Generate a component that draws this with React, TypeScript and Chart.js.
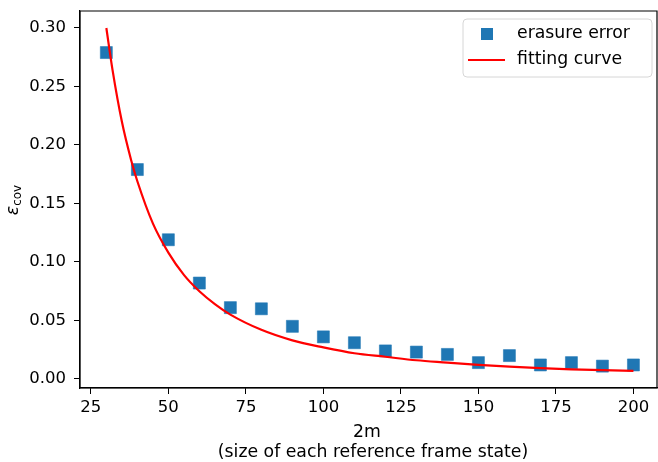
import { useEffect, useRef } from "react";
import { Chart, registerables } from "chart.js";

Chart.register(...registerables);

const FONT = "'DejaVu Sans', sans-serif";

// Measured points (erasure error)
const sizeValues = [30, 40, 50, 60, 70, 80, 90, 100, 110, 120, 130, 140, 150, 160, 170, 180, 190, 200];
const errorValues = [0.279, 0.179, 0.119, 0.082, 0.061, 0.060, 0.045, 0.036, 0.031, 0.024, 0.023, 0.021, 0.014, 0.020, 0.012, 0.014, 0.011, 0.012];

// Fitting curve
const curveX = [30, 32, 35, 38, 40, 45, 50, 55, 60, 65, 70, 80, 90, 100, 110, 120, 130, 140, 150, 160, 170, 180, 190, 200];
const curveY = [0.300, 0.264, 0.220, 0.187, 0.169, 0.133, 0.108, 0.089, 0.075, 0.064, 0.055, 0.042, 0.033, 0.027, 0.022, 0.019, 0.016, 0.014, 0.012, 0.0105, 0.0093, 0.0083, 0.0075, 0.007];

const xTicks = [25, 50, 75, 100, 125, 150, 175, 200];
const yTicks = [0.0, 0.05, 0.1, 0.15, 0.2, 0.25, 0.3];

const legendLabels = ["erasure error", "fitting curve"];
const xTitleLines = ["2m", "(size of each reference frame state)"];

const BLUE = "#1f77b4";
const RED = "#ff0000";
const TEXT_SIZE = 17.3;
const TICK_SIZE = 16.5;

const decorPlugin = {
  id: "decor",
  afterDraw(chart: any) {
    const ctx = chart.ctx as CanvasRenderingContext2D;
    const a = chart.chartArea;
    ctx.save();
    // frame (all spines)
    ctx.strokeStyle = "#000";
    ctx.lineWidth = 1.2;
    ctx.beginPath();
    ctx.moveTo(a.left, a.bottom);
    ctx.lineTo(a.left, a.top);
    ctx.lineTo(a.right, a.top);
    ctx.lineTo(a.right, a.bottom);
    ctx.lineTo(a.left, a.bottom);
    ctx.stroke();

    // legend
    const lx = 463, ly = 19, lw = 189, lh = 58, r = 4;
    ctx.beginPath();
    ctx.moveTo(lx + r, ly);
    ctx.lineTo(lx + lw - r, ly);
    ctx.quadraticCurveTo(lx + lw, ly, lx + lw, ly + r);
    ctx.lineTo(lx + lw, ly + lh - r);
    ctx.quadraticCurveTo(lx + lw, ly + lh, lx + lw - r, ly + lh);
    ctx.lineTo(lx + r, ly + lh);
    ctx.quadraticCurveTo(lx, ly + lh, lx, ly + lh - r);
    ctx.lineTo(lx, ly + r);
    ctx.quadraticCurveTo(lx, ly, lx + r, ly);
    ctx.closePath();
    ctx.fillStyle = "rgba(255,255,255,0.8)";
    ctx.fill();
    ctx.strokeStyle = "#d6d6d6";
    ctx.lineWidth = 1;
    ctx.stroke();

    ctx.fillStyle = BLUE;
    ctx.fillRect(481, 28, 12, 12);
    ctx.strokeStyle = RED;
    ctx.lineWidth = 2.2;
    ctx.beginPath();
    ctx.moveTo(468, 60);
    ctx.lineTo(505, 60);
    ctx.stroke();

    ctx.fillStyle = "#000";
    ctx.font = `${TEXT_SIZE}px ${FONT}`;
    ctx.textAlign = "left";
    ctx.textBaseline = "middle";
    ctx.fillText(legendLabels[0], 517, 34);
    ctx.fillText(legendLabels[1], 517, 60);

    // x title
    ctx.textAlign = "center";
    ctx.fillText(xTitleLines[0], 367, 433);
    ctx.fillText(xTitleLines[1], 373, 453);

    // y title (epsilon with subscript)
    ctx.translate(15, 200);
    ctx.rotate(-Math.PI / 2);
    ctx.textAlign = "left";
    ctx.textBaseline = "alphabetic";
    ctx.font = `italic ${TEXT_SIZE}px ${FONT}`;
    const epsW = ctx.measureText("ε").width;
    ctx.font = `12px ${FONT}`;
    const subW = ctx.measureText("cov").width;
    const start = -(epsW + subW) / 2;
    ctx.font = `italic ${TEXT_SIZE}px ${FONT}`;
    ctx.fillText("ε", start, 3);
    ctx.font = `12px ${FONT}`;
    ctx.fillText("cov", start + epsW, 6);
    ctx.restore();
  },
};

export default function App() {
  const ref = useRef<HTMLCanvasElement>(null);
  useEffect(() => {
    document.body.style.margin = "0";
    const chart = new Chart(ref.current!, {
      type: "scatter",
      data: {
        datasets: [
          {
            label: legendLabels[1],
            data: curveX.map((x, i) => ({ x, y: curveY[i] })),
            showLine: true,
            borderColor: RED,
            borderWidth: 2.2,
            pointRadius: 0,
            cubicInterpolationMode: "monotone",
            order: 0,
          } as any,
          {
            label: legendLabels[0],
            data: sizeValues.map((x, i) => ({ x, y: errorValues[i] })),
            pointStyle: "rect",
            pointRadius: 8.5,
            backgroundColor: BLUE,
            borderColor: "rgba(31,119,180,0.55)",
            borderWidth: 1,
            order: 1,
          },
        ],
      },
      options: {
        responsive: false,
        animation: false,
        layout: { autoPadding: false, padding: { top: 11, right: 1, left: 0, bottom: 0 } },
        plugins: { legend: { display: false }, tooltip: { enabled: false } },
        scales: {
          x: {
            type: "linear",
            min: 21.5,
            max: 207.6,
            afterBuildTicks: (s: any) => {
              s.ticks = xTicks.map((v) => ({ value: v }));
            },
            afterFit: (s: any) => {
              s.height = 74;
              s.paddingLeft = 0;
              s.paddingRight = 0;
            },
            grid: { display: true, drawOnChartArea: false, drawTicks: true, tickLength: 6, color: "#000", lineWidth: 1 },
            border: { display: true, color: "#000", width: 1.2 },
            ticks: {
              font: { family: FONT, size: TICK_SIZE },
              color: "#000",
              padding: 4,
              maxRotation: 0,
              autoSkip: false,
              callback: (v: any) => String(v),
            },
          },
          y: {
            type: "linear",
            min: -0.0077,
            max: 0.3145,
            afterBuildTicks: (s: any) => {
              s.ticks = yTicks.map((v) => ({ value: v }));
            },
            afterFit: (s: any) => {
              s.width = 80;
              s.paddingTop = 0;
              s.paddingBottom = 0;
            },
            grid: { display: true, drawOnChartArea: false, drawTicks: true, tickLength: 6, color: "#000", lineWidth: 1 },
            border: { display: true, color: "#000", width: 1.2 },
            ticks: {
              font: { family: FONT, size: TICK_SIZE },
              color: "#000",
              padding: 8,
              autoSkip: false,
              callback: (v: any) => Number(v).toFixed(2),
            },
          },
        },
      },
      plugins: [decorPlugin],
    });
    return () => chart.destroy();
  }, []);
  return (
    <div style={{ width: 658, height: 462, position: "relative" }}>
      <canvas ref={ref} width={658} height={462} style={{ display: "block" }} />
    </div>
  );
}
